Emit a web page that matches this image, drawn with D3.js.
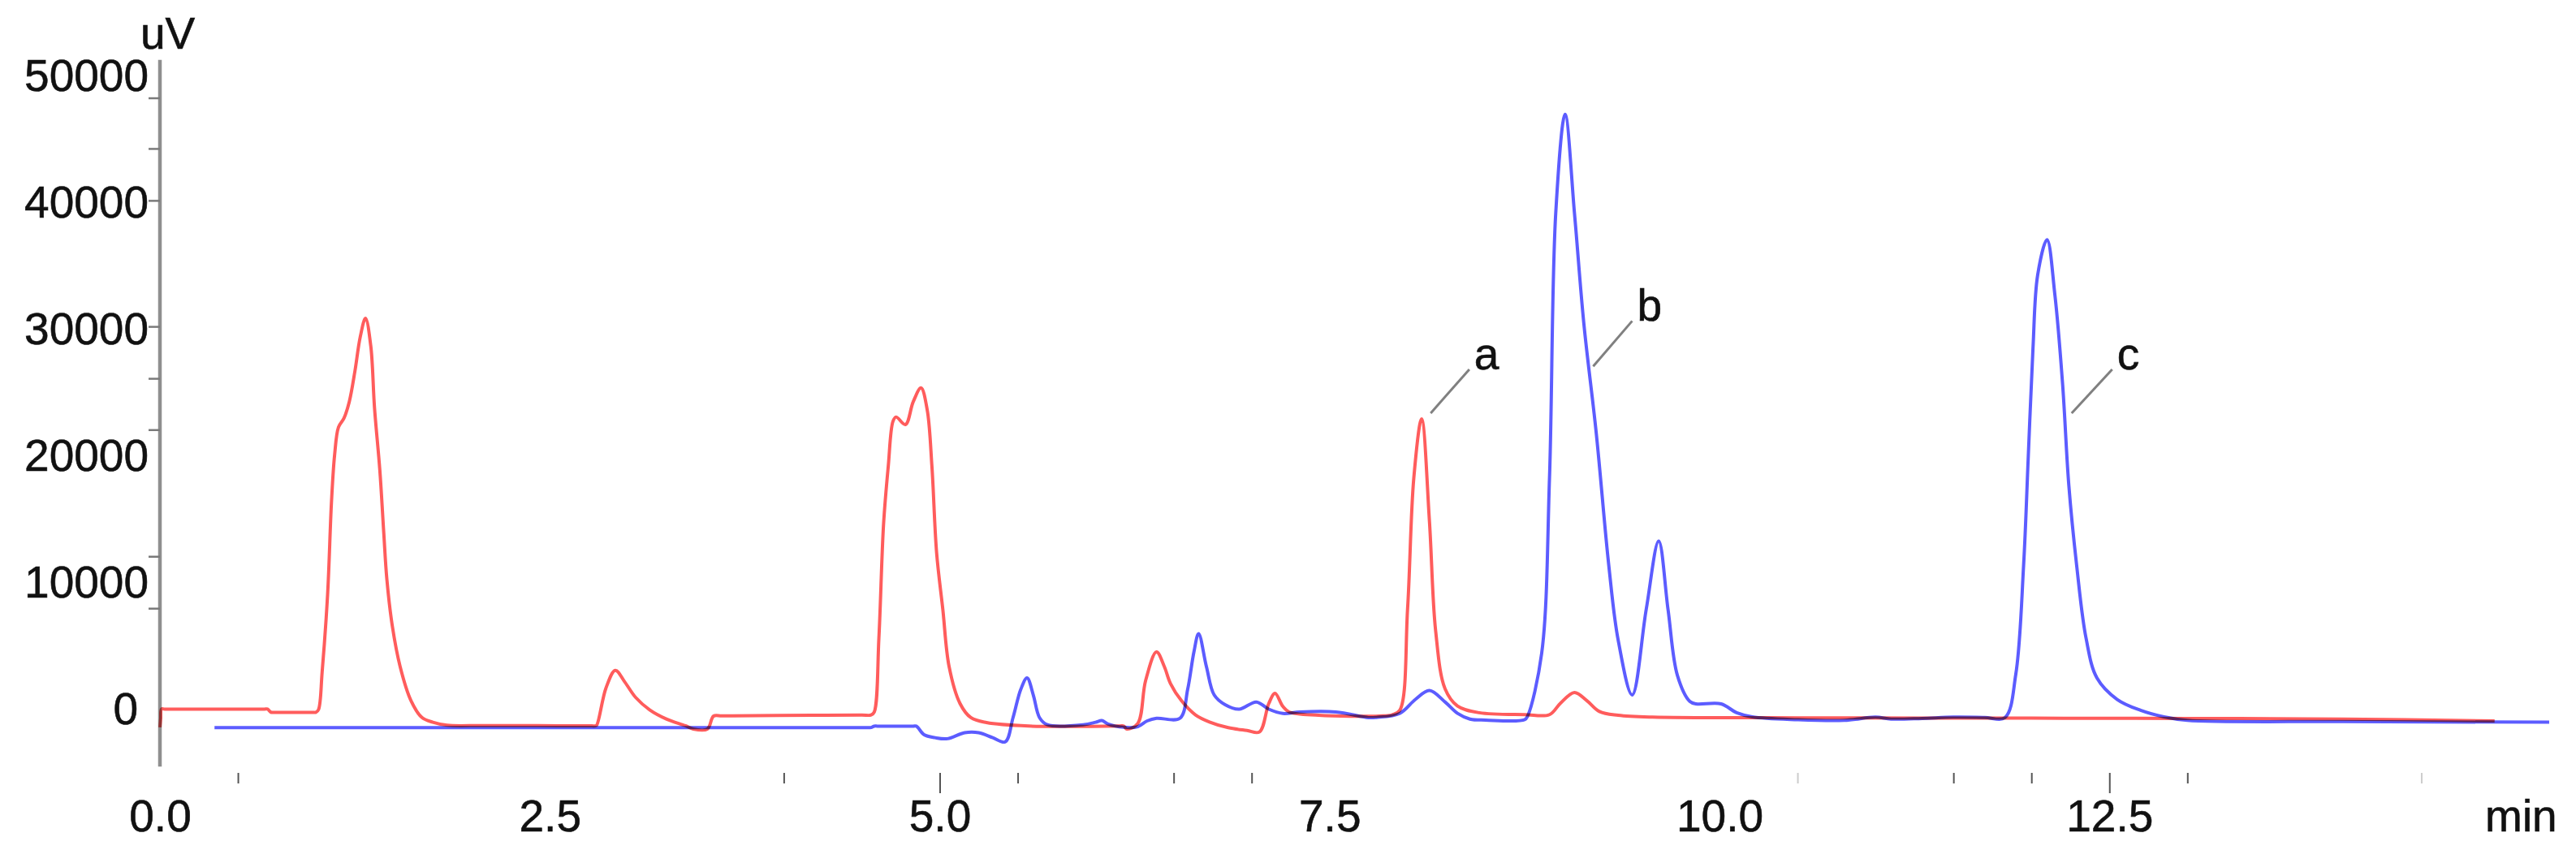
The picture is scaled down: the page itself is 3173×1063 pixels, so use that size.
<!DOCTYPE html>
<html>
<head>
<meta charset="utf-8">
<script src="https://cdn.jsdelivr.net/npm/d3@7"></script>
<style>
  body { margin: 0; background: #fff; }
  text { font-family: "Liberation Sans", Arial, sans-serif; fill: #1a1a1a; }
</style>
</head>
<body>
<script>
// retention time (min) and signal (uV)
let redTime = [0.0, 0.005, 0.01, 0.03, 0.67, 0.69, 0.71, 0.73, 0.98, 1.0, 1.017, 1.04, 1.075, 1.1, 1.12, 1.145, 1.18,
  1.214, 1.25, 1.284, 1.318, 1.352, 1.376, 1.41, 1.435, 1.455, 1.49, 1.54, 1.61, 1.68, 1.75, 1.84, 2.07, 2.42, 2.77,
  2.79, 2.8, 2.86, 2.92, 2.98, 3.05, 3.14, 3.25, 3.37, 3.42, 3.51, 3.55, 3.6, 3.67, 4.18, 4.5, 4.56, 4.58, 4.61, 4.64,
  4.67, 4.70, 4.72, 4.78, 4.83, 4.88, 4.92, 4.95, 4.98, 5.02, 5.06, 5.13, 5.2, 5.3, 5.57, 6.15, 6.18, 6.2, 6.27, 6.32,
  6.39, 6.44, 6.48, 6.55, 6.64, 6.73, 6.85, 6.97, 7.05, 7.11, 7.15, 7.2, 7.24, 7.43, 7.82, 7.9, 7.95, 8.0, 8.04, 8.09,
  8.14, 8.18, 8.24, 8.32, 8.46, 8.75, 8.91, 8.98, 9.07, 9.15, 9.23, 9.35, 9.57, 10.5, 12.0, 13.0, 14.0, 14.97];
let redSignal = [-1400, -700, 40, 40, 40, 40, -200, -220, -220, -220, 0, 2950, 9060, 16400, 20100, 22300, 23000,
  24300, 26700, 29400, 30900, 28700, 23800, 18900, 14000, 10300, 6600, 3400, 700, -630, -1000, -1240, -1260, -1270, -1290,
  -1290, -1250, 1700, 3100, 2190, 960, -20, -760, -1280, -1540, -1540, -510, -500, -500, -450, -430, -430, -200, 5650, 14650,
  19200, 22750, 23100, 22500, 24300, 25400, 23650, 19200, 12400, 7900, 3400, 480, -640, -1030, -1300, -1300, -1300, -1540, -1100, 2280,
  4550, 3400, 2050, 700, -420, -980, -1430, -1650, -1770, 480, 1280, 250, -190, -450, -510, -420, -60, 7950, 18300, 22950,
  14900, 6200, 1650, 280, -250, -400, -400, 500, 1350, 700, -150, -450, -600, -650, -680, -700, -750, -900];

let blueTime = [0.35, 4.5, 4.54, 4.56, 4.58, 4.6, 4.83, 4.85, 4.9, 4.97, 5.05, 5.16, 5.25, 5.34, 5.42, 5.47, 5.52,
  5.56, 5.6, 5.64, 5.69, 5.92, 6.0, 6.04, 6.08, 6.18, 6.27, 6.33, 6.39, 6.54, 6.59, 6.63, 6.66, 6.71, 6.76, 6.83,
  6.92, 7.03, 7.11, 7.2, 7.31, 7.54, 7.75, 7.8, 7.95, 8.05, 8.14, 8.24, 8.32, 8.4, 8.5, 8.75, 8.77, 8.86, 8.91, 8.95,
  9.01, 9.07, 9.13, 9.21, 9.29, 9.35, 9.44, 9.53, 9.61, 9.67, 9.73, 9.81, 9.85, 10.01, 10.11, 10.21, 10.5, 10.8,
  11.0, 11.1, 11.3, 11.5, 11.7, 11.83, 11.9, 11.95, 11.98, 12.01, 12.04, 12.10, 12.15, 12.2, 12.24, 12.29, 12.35,
  12.42, 12.55, 12.7, 12.85, 13.0, 14.0, 15.32];
let blueSignal = [-1420, -1420, -1420, -1420, -1310, -1310, -1310, -1310, -1990, -2220, -2300, -1830, -1830, -2220, -2550, -640, 1600,
  2500, 1150, -640, -1200, -1200, -1000, -870, -1150, -1400, -1350, -900, -690, -690, 1600, 4550, 6000, 3400, 1150, 380,
  30, 600, 30, -310, -190, -190, -640, -620, -300, 800, 1500, 600, -300, -750, -830, -800, -500, 4450, 18300, 39200,
  47000, 39200, 30500, 21800, 11400, 5500, 1150, 7900, 13300, 7900, 2700, 640, 450, 450, -250, -580, -800, -850,
  -600, -750, -700, -600, -620, -640, 2800, 11400, 20000, 28500, 34300, 37100, 32800, 25700, 17700, 11400, 5660,
  2500, 800, -60, -580, -850, -950, -1000];

// axis labels and ticks
let xLabels = [0, 2.5, 5.0, 7.5, 10.0, 12.5];
let xMajorTicks = [5.0, 12.5];
let xMinorTicks = [0.5, 4.0, 5.5, 6.5, 7.0, 11.5, 12.0, 13.0];
let xFaintTicks = [10.5, 14.5];
let yLabels = [0, 10000, 20000, 30000, 40000, 50000];
let yMinorTicks = [8000, 12100, 22100, 26150, 30250, 40200, 44300, 48300];
let yAxisExtent = [-4500, 51300];

// peak annotations
let peakNames = ["a", "b", "c"];
let peakFrom = [[8.148, 23400], [9.19, 27100], [12.258, 23400]];
let peakTo = [[8.396, 26860], [9.44, 30680], [12.518, 26860]];

let width = 3173, height = 1063;

let svg = d3.select("body")
  .append("svg")
  .attr("width", width)
  .attr("height", height)
  .style("background-color", "white");

let x = d3.scaleLinear().domain([0, 15]).range([197, 197 + 15 * 192.1]);
let y = d3.scaleLinear().domain([0, 50000]).range([874, 94]);

// y axis line
svg.append("line")
  .attr("x1", x(0)).attr("x2", x(0))
  .attr("y1", y(yAxisExtent[1])).attr("y2", y(yAxisExtent[0]))
  .style("stroke", "#8f8f8f")
  .style("stroke-width", 4.5);

// y minor ticks
svg.append("g")
  .attr("transform", "translate(" + x(0) + ",0)")
  .call(d3.axisLeft(y).tickValues(yMinorTicks).tickSize(14).tickFormat(""))
  .call(g => g.select(".domain").remove())
  .call(g => g.selectAll("line").style("stroke", "#7a7a7a").style("stroke-width", 2.5));

let labelStyle = g => g
  .style("font-size", "55px")
  .style("font-family", "'Liberation Sans', Arial, sans-serif")
  .style("fill", "#111")
  .style("stroke", "#111")
  .style("stroke-width", 0.6);

// y labels
svg.append("g")
  .attr("transform", "translate(" + x(0) + ",0)")
  .call(d3.axisLeft(y).tickValues(yLabels).tickSize(0).tickPadding(14).tickFormat(d3.format("d")))
  .call(g => g.select(".domain").remove())
  .call(g => g.selectAll("text").call(labelStyle).attr("dx", d => d === 0 ? -13 : 0));

svg.append("text")
  .attr("x", x(0) - 24)
  .attr("y", y(52200))
  .call(labelStyle)
  .text("uV");

// x ticks and labels (no baseline, like the original)
let xg = svg.append("g").attr("transform", "translate(0,952)");
xg.append("g")
  .call(d3.axisBottom(x).tickValues(xMinorTicks).tickSize(13).tickFormat(""))
  .call(g => g.select(".domain").remove())
  .call(g => g.selectAll("line").style("stroke", "#555").style("stroke-width", 2));
xg.append("g")
  .call(d3.axisBottom(x).tickValues(xFaintTicks).tickSize(13).tickFormat(""))
  .call(g => g.select(".domain").remove())
  .call(g => g.selectAll("line").style("stroke", "#ccc").style("stroke-width", 2));
xg.append("g")
  .call(d3.axisBottom(x).tickValues(xMajorTicks).tickSize(25).tickFormat(""))
  .call(g => g.select(".domain").remove())
  .call(g => g.selectAll("line").style("stroke", "#555").style("stroke-width", 2));
xg.append("g")
  .call(d3.axisBottom(x).tickValues(xLabels).tickSize(0).tickPadding(33).tickFormat(d3.format(".1f")))
  .call(g => g.select(".domain").remove())
  .call(g => g.selectAll("text").call(labelStyle));

svg.append("text")
  .attr("x", x(15.14))
  .attr("y", 1024)
  .attr("text-anchor", "middle")
  .call(labelStyle)
  .text("min");

// traces
let line = d3.line()
  .x(d => x(d[0]))
  .y(d => y(d[1]))
  .curve(d3.curveCatmullRom.alpha(0.5));

let traces = [
  { time: blueTime, signal: blueSignal, color: "#5c5cff" },
  { time: redTime, signal: redSignal, color: "#ff5c5c" }
];

svg.selectAll("path.trace")
  .data(traces)
  .enter()
  .append("path")
    .attr("class", "trace")
    .attr("d", d => line(d.time.map((t, i) => [t, d.signal[i]])))
    .style("fill", "none")
    .style("stroke", d => d.color)
    .style("stroke-width", 4)
    .style("stroke-linejoin", "round")
    .style("mix-blend-mode", "multiply");

// peak labels a, b, c
svg.selectAll("line.leader")
  .data(peakNames)
  .enter()
  .append("line")
    .attr("class", "leader")
    .attr("x1", (d, i) => x(peakFrom[i][0]))
    .attr("y1", (d, i) => y(peakFrom[i][1]))
    .attr("x2", (d, i) => x(peakTo[i][0]))
    .attr("y2", (d, i) => y(peakTo[i][1]))
    .style("stroke", "#808080")
    .style("stroke-width", 3);

svg.selectAll("text.peak")
  .data(peakNames)
  .enter()
  .append("text")
    .attr("class", "peak")
    .attr("x", (d, i) => x(peakTo[i][0]) + 6)
    .attr("y", (d, i) => y(peakTo[i][1]))
    .call(labelStyle)
    .text(d => d);
</script>
</body>
</html>
